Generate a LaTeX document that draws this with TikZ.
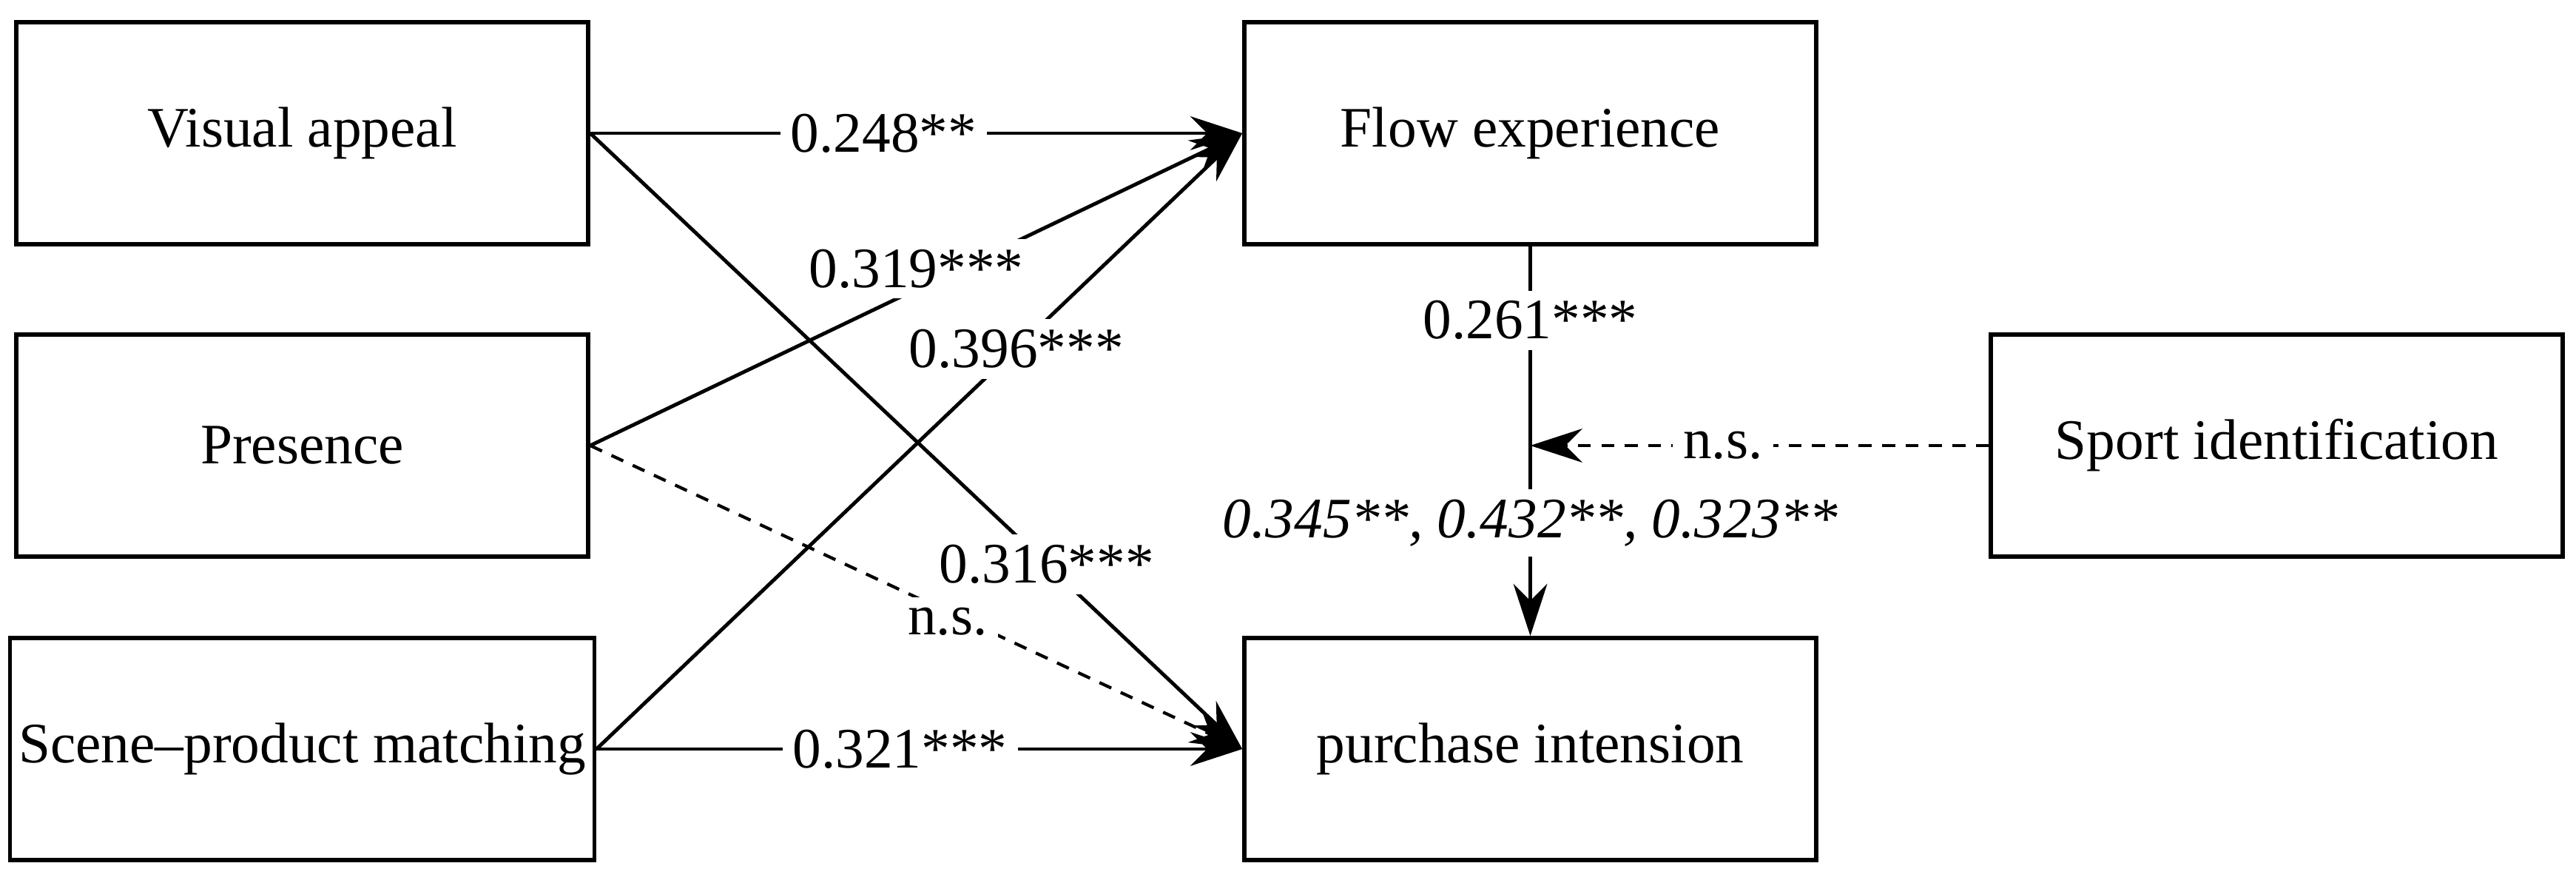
\documentclass[tikz,border=0pt]{standalone}
\usepackage{fontspec}
\setmainfont{Liberation Serif}
\usetikzlibrary{arrows.meta}
\begin{document}
\begin{tikzpicture}[x=1cm,y=1cm,
  box/.style={draw,line width=1.6pt,minimum width=7.73cm,minimum height=3.0cm,font=\fontsize{22}{26}\selectfont},
  lab/.style={fill=white,inner sep=4pt,font=\fontsize{22}{26}\selectfont},
  con/.style={line width=1.4pt,-{Stealth[length=20pt,width=13pt]}},
  dcon/.style={con,dash pattern=on 5pt off 4pt,line width=1.2pt}]
\useasboundingbox (0,0) rectangle (34.82,11.92);
\node[box] (va) at (4.085,10.12) {Visual appeal};
\node[box] (pr) at (4.085,5.90) {Presence};
\node[box] (sc) at (4.085,1.80) {Scene–product matching};
\node[box] (fl) at (20.685,10.12) {Flow experience};
\node[box] (pi) at (20.685,1.80) {purchase intension};
\node[box] (sp) at (30.775,5.90) {Sport identification};
\draw[con] (va.east) -- (pi.west) node[lab,pos=0.70] {0.316***};
\draw[con] (pr.east) -- (fl.west) node[lab,pos=0.5,yshift=8pt] {0.319***};
\draw[con] (sc.east) -- (fl.west) node[lab,pos=0.65] {0.396***};
\draw[con] (va.east) -- (fl.west) node[lab,pos=0.45] {0.248**};
\draw[dcon] (pr.east) -- (pi.west) node[lab,pos=0.58,xshift=-8pt] {n.s.};
\draw[con] (sc.east) -- (pi.west) node[lab,pos=0.47] {0.321***};
\coordinate (m) at (20.685,5.90);
\draw[con] (fl.south) -- (pi.north)
  node[lab,pos=0.19] {0.261***}
  node[lab,pos=0.71] {\itshape 0.345**, 0.432**, 0.323**};
\draw[dcon] (sp.west) -- (m) node[lab,pos=0.58] {n.s.};
\end{tikzpicture}
\end{document}
